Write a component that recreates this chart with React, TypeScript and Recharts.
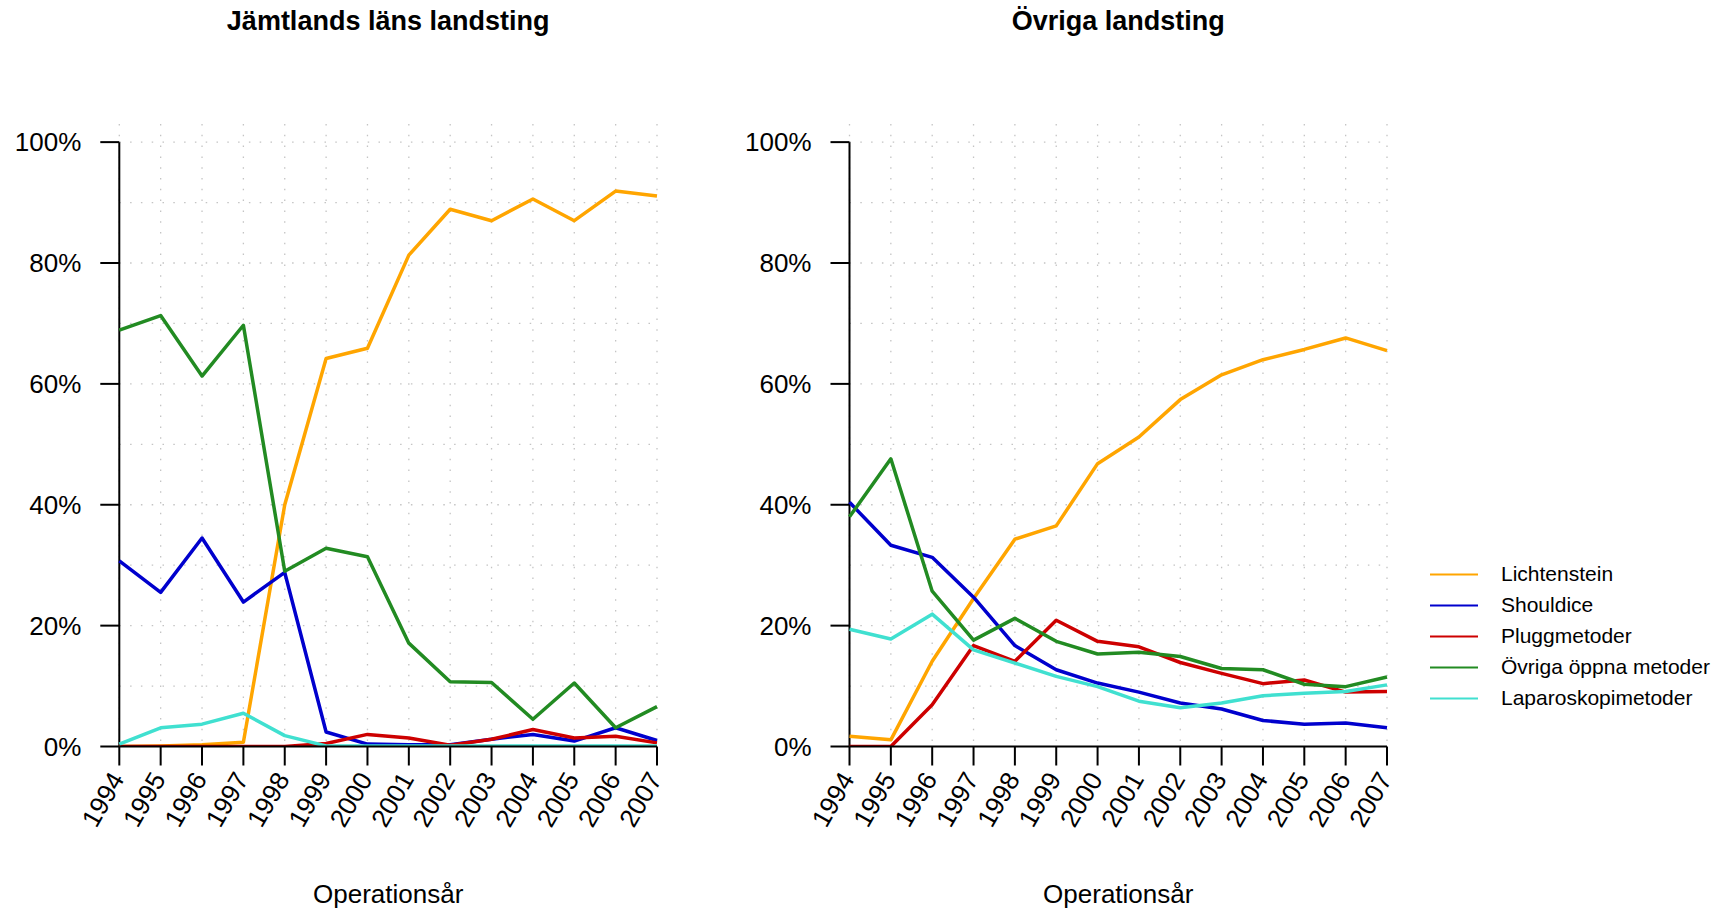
import React from 'react';
import { LineChart, Line, XAxis, YAxis, CartesianGrid, ReferenceLine, Legend } from 'recharts';

const years = [1994, 1995, 1996, 1997, 1998, 1999, 2000, 2001, 2002, 2003, 2004, 2005, 2006, 2007];
const yTicks = [0, 20, 40, 60, 80, 100];
const gridLevels = [10, 20, 30, 40, 50, 60, 70, 80, 90, 100];

const seriesNames = ['Lichtenstein', 'Shouldice', 'Pluggmetoder', 'Övriga öppna metoder', 'Laparoskopimetoder'];
const seriesColors = ['#FFA500', '#0000CD', '#CD0000', '#228B22', '#40E0D0'];

// Jämtlands läns landsting, percent per year
const jamtLichtenstein = [0.0, 0.1, 0.3, 0.7, 40.0, 64.2, 65.9, 81.3, 88.9, 87.0, 90.6, 87.0, 91.9, 91.1];
const jamtShouldice = [30.7, 25.5, 34.5, 23.9, 28.8, 2.4, 0.4, 0.3, 0.3, 1.2, 2.0, 0.9, 3.1, 1.0];
const jamtPlugg = [0.0, 0.0, 0.0, 0.0, 0.0, 0.5, 2.0, 1.4, 0.2, 1.2, 2.8, 1.4, 1.7, 0.6];
const jamtOvriga = [68.9, 71.3, 61.3, 69.7, 29.0, 32.8, 31.4, 17.1, 10.7, 10.6, 4.5, 10.5, 3.1, 6.6];
const jamtLaparo = [0.4, 3.1, 3.7, 5.5, 1.8, 0.1, 0.1, 0.1, 0.1, 0.1, 0.1, 0.1, 0.1, 0.1];

// Övriga landsting
const ovrLichtenstein = [1.7, 1.1, 14.1, 24.5, 34.3, 36.5, 46.8, 51.2, 57.4, 61.5, 64.0, 65.7, 67.6, 65.5];
const ovrShouldice = [40.4, 33.3, 31.3, 24.7, 16.7, 12.7, 10.5, 9.0, 7.2, 6.2, 4.3, 3.7, 3.9, 3.1];
const ovrPlugg = [0.0, 0.0, 6.9, 16.7, 14.1, 20.9, 17.4, 16.5, 13.9, 12.1, 10.4, 11.0, 9.0, 9.1];
const ovrOvriga = [38.0, 47.6, 25.7, 17.6, 21.2, 17.4, 15.3, 15.6, 14.9, 12.9, 12.7, 10.3, 9.9, 11.5];
const ovrLaparo = [19.4, 17.8, 21.9, 16.0, 13.8, 11.6, 9.9, 7.5, 6.4, 7.2, 8.4, 8.8, 9.1, 10.2];

const buildRows = (cols: number[][]) =>
  years.map((year, i) => {
    const row: Record<string, number> = { year };
    seriesNames.forEach((name, k) => {
      row[name] = cols[k][i];
    });
    return row;
  });

const jamtRows = buildRows([jamtLichtenstein, jamtShouldice, jamtPlugg, jamtOvriga, jamtLaparo]);
const ovrRows = buildRows([ovrLichtenstein, ovrShouldice, ovrPlugg, ovrOvriga, ovrLaparo]);

const FONT = '"Liberation Sans", Arial, Helvetica, sans-serif';
const GRID = '#c4c4c4';

const YearTick = (props: any) => {
  const { x, y, payload } = props;
  return (
    <g transform={`translate(${x - 2},${y + 9}) rotate(-60)`}>
      <text x={0} y={0} textAnchor="end" dominantBaseline="central" fontSize={26} fill="#000" fontFamily={FONT}>
        {payload.value}
      </text>
    </g>
  );
};

// legend keeps the plotting order, not the alphabetical one
const LegendBox = () => (
  <div style={{ fontSize: 21, fontFamily: FONT, color: '#000' }}>
    {seriesNames.map((name, i) => (
      <div key={name} style={{ display: 'flex', alignItems: 'center', height: 31 }}>
        <svg width={71} height={31} style={{ flex: 'none' }}>
          <line x1={0} x2={48} y1={15.5} y2={15.5} stroke={seriesColors[i]} strokeWidth={2} />
        </svg>
        <span style={{ whiteSpace: 'nowrap' }}>{name}</span>
      </div>
    ))}
  </div>
);

interface PanelProps {
  title: string;
  rows: Record<string, number>[];
  left: number;
  width: number;
  marginRight: number;
  leftPad: number;
  showLegend?: boolean;
}

const Panel: React.FC<PanelProps> = ({ title, rows, left, width, marginRight, leftPad, showLegend }) => {
  const plotCenter = leftPad + 119 + (width - leftPad - 119 - marginRight) / 2;
  return (
    <div style={{ position: 'absolute', left, top: 0 }}>
      <div
        style={{
          position: 'absolute',
          left: plotCenter - 300,
          width: 600,
          top: 8,
          textAlign: 'center',
          fontSize: 27,
          lineHeight: '26px',
          fontWeight: 'bold',
          fontFamily: FONT,
        }}
      >
        {title}
      </div>
      <LineChart
        width={width}
        height={909}
        data={rows}
        margin={{ top: 124, right: marginRight, bottom: 0, left: leftPad }}
        style={{ fontFamily: FONT }}
      >
        <CartesianGrid horizontal={false} vertical stroke={GRID} strokeWidth={1.3} strokeDasharray="1.5 9.3" />
        {gridLevels.map((v) => (
          <ReferenceLine key={v} y={v} stroke={GRID} strokeWidth={1.3} strokeDasharray="1.5 9.3" />
        ))}
        <XAxis
          dataKey="year"
          type="number"
          domain={[1994, 2007]}
          ticks={years}
          interval={0}
          height={162.5}
          tickSize={19}
          tickMargin={0}
          axisLine={{ stroke: '#000', strokeWidth: 2 }}
          tickLine={{ stroke: '#000', strokeWidth: 2 }}
          tick={<YearTick />}
          label={{ value: 'Operationsår', position: 'insideBottom', offset: 6, fontSize: 26, fill: '#000' }}
        />
        <YAxis
          type="number"
          domain={[0, 103]}
          ticks={yTicks}
          interval={0}
          allowDataOverflow
          width={119}
          tickSize={19}
          tickMargin={19}
          axisLine={false}
          tickLine={{ stroke: '#000', strokeWidth: 2 }}
          tick={{ fontSize: 26, fill: '#000' }}
          tickFormatter={(v: number) => `${v}%`}
        />
        <ReferenceLine
          segment={[
            { x: 1994, y: 0 },
            { x: 1994, y: 100 },
          ]}
          stroke="#000"
          strokeWidth={2}
        />
        {seriesNames.map((name, i) => (
          <Line
            key={name}
            type="linear"
            dataKey={name}
            name={name}
            stroke={seriesColors[i]}
            strokeWidth={3.5}
            strokeLinejoin="round"
            dot={false}
            activeDot={false}
            isAnimationActive={false}
          />
        ))}
        {showLegend && (
          <Legend
            layout="vertical"
            align="center"
            verticalAlign="middle"
            content={<LegendBox />}
            wrapperStyle={{ left: 700, top: 558.5, width: 300 }}
          />
        )}
      </LineChart>
    </div>
  );
}

export default function App() {
  return (
    <div style={{ position: 'absolute', left: 0, top: 0, width: 1732, height: 909, background: '#fff', fontFamily: FONT }}>
      <Panel title="Jämtlands läns landsting" rows={jamtRows} left={0} width={700} marginRight={43} leftPad={0.3} />
      <Panel title="Övriga landsting" rows={ovrRows} left={730} width={1002} marginRight={345} leftPad={0.5} showLegend />
    </div>
  );
}
